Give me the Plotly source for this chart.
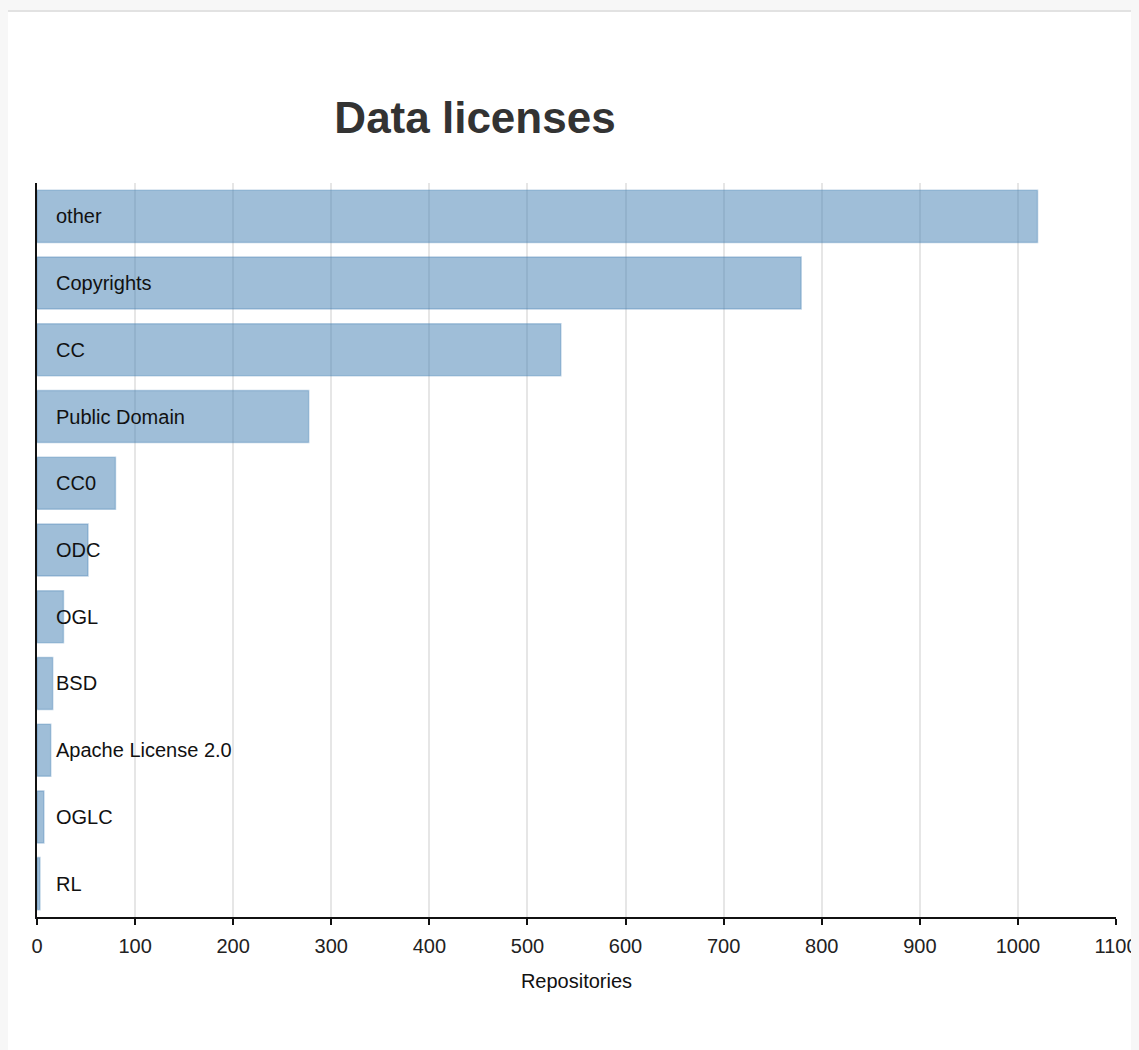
import plotly.graph_objects as go

categories = ["other", "Copyrights", "CC", "Public Domain", "CC0", "ODC", "OGL",
              "BSD", "Apache License 2.0", "OGLC", "RL"]
repositories = [1020, 779, 534, 277, 80, 52, 27, 16, 14, 7, 3]
x_ticks = list(range(0, 1101, 100))

# the page body has an 8px margin, so the figure is placed at (8, 8)
W, H = 1131, 1042
ml, mr, mt, mb = 29, 23, 175, 133
pw, ph = W - ml - mr, H - mt - mb
FONT = "Liberation Sans, Arial, Helvetica, sans-serif"

fig = go.Figure()
fig.add_trace(go.Bar(
    y=categories, x=repositories, orientation="h",
    marker=dict(color="rgba(70,130,180,0.52)",
                line=dict(color="rgba(70,130,180,0.35)", width=1.5)),
    hoverinfo="x+y",
))

for c in categories:
    fig.add_annotation(x=0, y=c, xref="x", yref="y", text=c, showarrow=False,
                       xanchor="left", xshift=17,
                       font=dict(family=FONT, size=20, color="#111"))

# page frame (light gray strip at the top like the original page)
fig.add_shape(type="rect", xref="paper", yref="paper",
              x0=-ml / pw, x1=(W - ml) / pw,
              y0=-mb / ph, y1=(H - 4 - mb) / ph,
              fillcolor="white", line=dict(width=0), layer="below")
fig.add_shape(type="line", xref="paper", yref="paper",
              x0=-ml / pw, x1=(W - ml) / pw,
              y0=(H - 3 - mb) / ph, y1=(H - 3 - mb) / ph,
              line=dict(color="#e2e2e2", width=2), layer="below")

fig.update_layout(
    width=W, height=H,
    margin=dict(l=ml, r=mr, t=mt, b=mb, autoexpand=False),
    paper_bgcolor="#f7f7f7", plot_bgcolor="rgba(0,0,0,0)",
    bargap=0.22,
    showlegend=False,
    title=dict(text="<b>Data licenses</b>", x=(475 - 8) / W, xref="container", xanchor="center",
               y=1 - (118 - 8) / H, yref="container", yanchor="middle",
               font=dict(family=FONT, size=44, color="#333")),
    font=dict(family=FONT, size=20, color="#111"),
)
fig.update_xaxes(range=[0, 1100], tickvals=x_ticks, showgrid=True, gridcolor="#e6e6e6", gridwidth=1.5,
                 showline=True, linecolor="#111", linewidth=2, ticks="outside", ticklen=6,
                 tickwidth=2, tickcolor="#111", zeroline=False, automargin=False,
                 ticklabelstandoff=4,
                 title=dict(text="Repositories", font=dict(size=20, color="#111"), standoff=18),
                 tickfont=dict(size=20, color="#222"))
fig.update_yaxes(autorange="reversed", showticklabels=False, showline=True, linecolor="#111",
                 linewidth=2, showgrid=False, ticks="", zeroline=False, automargin=False)

fig.write_html("out.html", post_script="document.body.style.background='#f7f7f7';")
